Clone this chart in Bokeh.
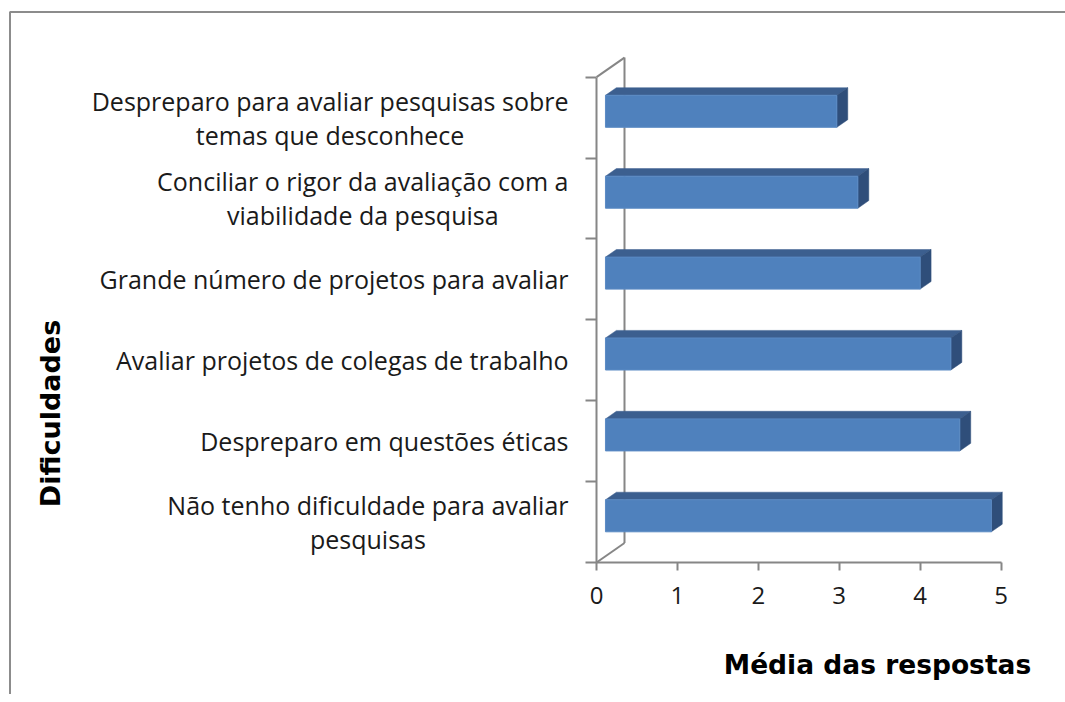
import numpy as np
from bokeh.plotting import figure
from bokeh.models import Range1d, LinearAxis, FixedTicker
from bokeh.core.properties import value
from bokeh.embed import file_html
from bokeh.resources import INLINE

# ---------------- data ----------------
categories = [
    "Não tenho dificuldade para avaliar\npesquisas",
    "Despreparo em questões éticas",
    "Avaliar projetos de colegas de trabalho",
    "Grande número de projetos para avaliar",
    "Conciliar o rigor da avaliação com a\nviabilidade da pesquisa",
    "Despreparo para avaliar pesquisas sobre\ntemas que desconhece",
]
medias = [4.77, 4.38, 4.27, 3.89, 3.12, 2.86]
x_ticks = [0, 1, 2, 3, 4, 5]
x_title = "Média das respostas"
y_title = "Dificuldades"

# ---------------- layout / style ----------------
W, H = 1065, 694
K = 80.9            # px per unit (both axes)
OX, OY = 596, 562   # chart origin in figure px

def dx(px):
    return (px - OX) / K

def dy(py):
    return (OY - py) / K

GRAY = "#868686"
FRONT = "#4F81BD"
TOP = "#3C5F8F"
SIDE = "#2F4E7A"

n = len(categories)
Dx, Dy = 28 / K, 19.5 / K      # depth vector of the 3D box
f0, f1 = 0.32, 0.71            # bar depth span
hh = 16 / K                    # half bar height

p = figure(width=W, height=H, output_backend="svg", toolbar_location=None,
           x_range=Range1d(dx(0), dx(W)), y_range=Range1d(dy(H), dy(0)),
           x_axis_type=None, y_axis_type=None, min_border=0)
p.outline_line_color = None
p.grid.visible = False
p.background_fill_color = "white"
p.border_fill_color = "white"

# outer chart border (left and top visible)
p.line(x=[dx(9.5), dx(9.5), dx(W + 5)], y=[dy(H + 5), dy(11.5), dy(11.5)],
       line_color="#8C8C8C", line_width=2)

# 3D frame lines: back wall and diagonals
nb = float(n)
p.segment(x0=[0, 0, Dx], y0=[0, nb, Dy], x1=[Dx, Dx, Dx], y1=[Dy, nb + Dy, nb + Dy],
          line_color=GRAY, line_width=2)

# bars
vals = np.array(medias, dtype=float)
centers = np.arange(n) + 0.5
x0 = f0 * Dx
yc = centers + f0 * Dy
yb = yc - hh
yt = yc + hh
ddx, ddy = (f1 - f0) * Dx, (f1 - f0) * Dy
right = x0 + vals

top_xs = [[x0, r, r + ddx, x0 + ddx] for r in right]
top_ys = [[t, t, t + ddy, t + ddy] for t in yt]
side_xs = [[r, r + ddx, r + ddx, r] for r in right]
side_ys = [[b, b + ddy, t + ddy, t] for b, t in zip(yb, yt)]

p.patches(xs=top_xs, ys=top_ys, fill_color=TOP, line_color=TOP, line_width=0.5)
p.patches(xs=side_xs, ys=side_ys, fill_color=SIDE, line_color=SIDE, line_width=0.5)
p.quad(left=[x0] * n, right=right, bottom=yb, top=yt,
       fill_color=FRONT, line_color="#5A8AC4", line_width=1)

# front vertical axis with category boundary ticks
yaxis = LinearAxis(fixed_location=0, bounds=(0, n),
                   ticker=FixedTicker(ticks=list(range(n + 1))))
yaxis.major_label_overrides = {i: "" for i in range(n + 1)}
yaxis.major_tick_out = 11
yaxis.major_tick_in = 0
yaxis.minor_tick_line_color = None
yaxis.axis_line_color = GRAY
yaxis.axis_line_width = 2
yaxis.major_tick_line_color = GRAY
yaxis.major_tick_line_width = 2
p.add_layout(yaxis, "left")

# value axis
xaxis = LinearAxis(fixed_location=0, bounds=(x_ticks[0], x_ticks[-1]),
                   ticker=FixedTicker(ticks=x_ticks))
xaxis.major_tick_out = 8
xaxis.major_tick_in = 0
xaxis.minor_tick_line_color = None
xaxis.axis_line_color = GRAY
xaxis.axis_line_width = 2
xaxis.major_tick_line_color = GRAY
xaxis.major_tick_line_width = 2
xaxis.major_label_text_font = "Open Sans"
xaxis.major_label_text_font_size = "24px"
xaxis.major_label_text_color = "#1A1A1A"
xaxis.major_label_standoff = 16
p.add_layout(xaxis, "below")

# category labels: block anchored at its right edge, lines centred
p.text(x=[0] * n, y=centers, text=categories, x_offset=-28,
       text_align="center", text_baseline="middle",
       anchor=value("center_right"),
       text_font=value("Open Sans"), text_font_size="25px",
       text_line_height=1.0, text_color="#1A1A1A")

# axis titles
p.text(x=[dx(877)], y=[dy(664)], text=[x_title], text_align="center",
       text_baseline="middle", text_font=value("DejaVu Sans"),
       text_font_style="bold", text_font_size="26.5px", text_color="black")
p.text(x=[dx(50)], y=[dy(413)], text=[y_title], angle=np.pi / 2,
       text_align="center", text_baseline="middle",
       text_font=value("DejaVu Sans"), text_font_style="bold",
       text_font_size="27px", text_color="black")

open("out.html", "w").write(file_html(p, INLINE))
